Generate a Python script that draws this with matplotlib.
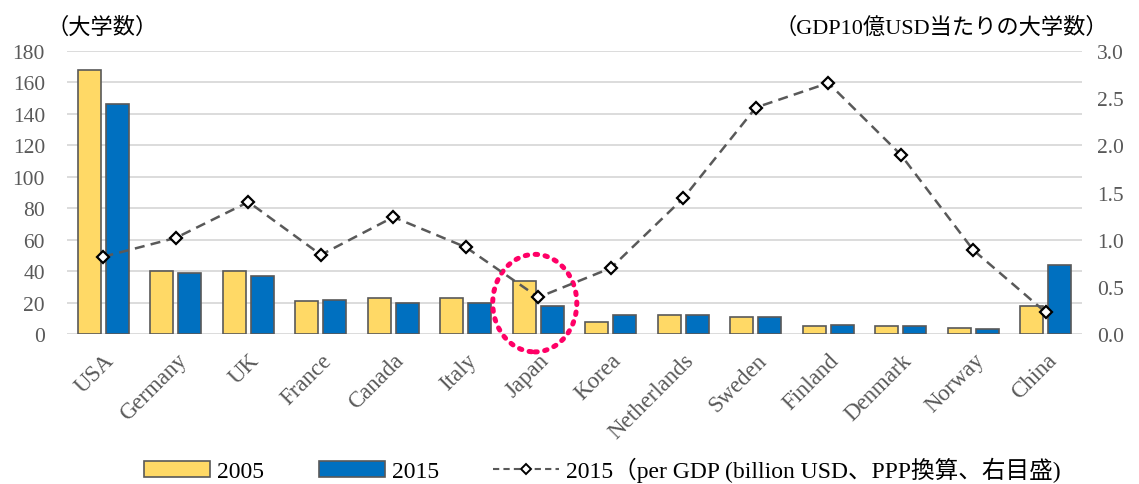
import matplotlib.pyplot as plt
import numpy as np
from matplotlib.patches import Ellipse, Patch
from matplotlib.lines import Line2D

plt.rcParams['font.family'] = ['Liberation Serif', 'Noto Sans CJK JP']

# datos
paises = ["USA", "Germany", "UK", "France", "Canada", "Italy", "Japan", "Korea",
          "Netherlands", "Sweden", "Finland", "Denmark", "Norway", "China"]
univ_2005 = [168, 40, 40, 21, 23, 23, 34, 8, 12, 11, 5, 5, 4, 18]
univ_2015 = [146, 39, 37, 22, 20, 20, 18, 12, 12, 11, 6, 5, 3, 44]
por_gdp_2015 = [0.82, 1.02, 1.40, 0.84, 1.24, 0.92, 0.39, 0.70, 1.44, 2.40, 2.66, 1.90, 0.89, 0.23]

gris = "#595959"
amarillo = "#FFD966"
azul = "#0070C0"

fig = plt.figure(figsize=(11.39, 4.85), dpi=100)
ax = fig.add_axes([0.0590, 0.309, 0.891, 0.584])
ax2 = ax.twinx()

x = np.arange(len(paises))
ancho = 0.317
ax.bar(x - 0.193, univ_2005, ancho, color=amarillo, edgecolor=gris, linewidth=1.2, zorder=3)
ax.bar(x + 0.193, univ_2015, ancho, color=azul, edgecolor=gris, linewidth=1.2, zorder=3)

ax2.plot(x, por_gdp_2015, color=gris, linestyle=(0, (4, 2.5)), linewidth=1.8,
         marker="D", markersize=6.5, markerfacecolor="white", markeredgecolor="black",
         markeredgewidth=1.6, zorder=5)

ax.set_xlim(-0.5, len(paises) - 0.5)
ax.set_ylim(0, 180)
ax.set_yticks(range(0, 181, 20))
ax2.set_ylim(0, 3.0)
ax2.set_yticks(np.arange(0, 3.01, 0.5))
ax2.set_yticklabels([f"{v:.1f}" for v in np.arange(0, 3.01, 0.5)])

ax.yaxis.grid(True, color="#d9d9d9", linewidth=1.3, zorder=0)
ax.set_axisbelow(True)
for a in (ax, ax2):
    for s in a.spines.values():
        s.set_visible(False)
    a.tick_params(length=0, labelsize=15.5, colors=gris)
ax.tick_params(axis="y", pad=16)
ax2.tick_params(axis="y", pad=11)

ax.set_xticks(x)
ax.set_xticklabels(paises, rotation=45, ha="right", rotation_mode="anchor", fontsize=16.5, color=gris)
ax.tick_params(axis="x", pad=11)

# marca de Japon
elipse = Ellipse((5.95, 19.7), 1.16, 62, fill=False, edgecolor="#FF0066", linewidth=3.6,
                 linestyle=(0, (0.5, 1.5)), clip_on=False, zorder=6)
elipse.set_capstyle("round")
ax.add_patch(elipse)

fig.text(0.041, 0.942, "（大学数）", fontsize=16, color="black", ha="left", va="center")
fig.text(0.973, 0.942, "（GDP10億USD当たりの大学数）", fontsize=16, color="black", ha="right", va="center")

handles = [Patch(facecolor=amarillo, edgecolor=gris, linewidth=1.2),
           Patch(facecolor=azul, edgecolor=gris, linewidth=1.2),
           Line2D([], [], color=gris, linestyle=(0, (3, 2)), linewidth=1.5, marker="D",
                  markersize=5.5, markerfacecolor="white", markeredgecolor="black", markeredgewidth=1.4)]
etiquetas = ["2005", "2015", "2015（per GDP (billion USD、PPP換算、右目盛)"]
fig.legend(handles, etiquetas, loc="center", bbox_to_anchor=(0.529, 0.03), ncol=3, frameon=False,
           fontsize=17, handlelength=2.8, handleheight=0.7, columnspacing=2.3, handletextpad=0.3)

fig.savefig("out.png", dpi=100)
